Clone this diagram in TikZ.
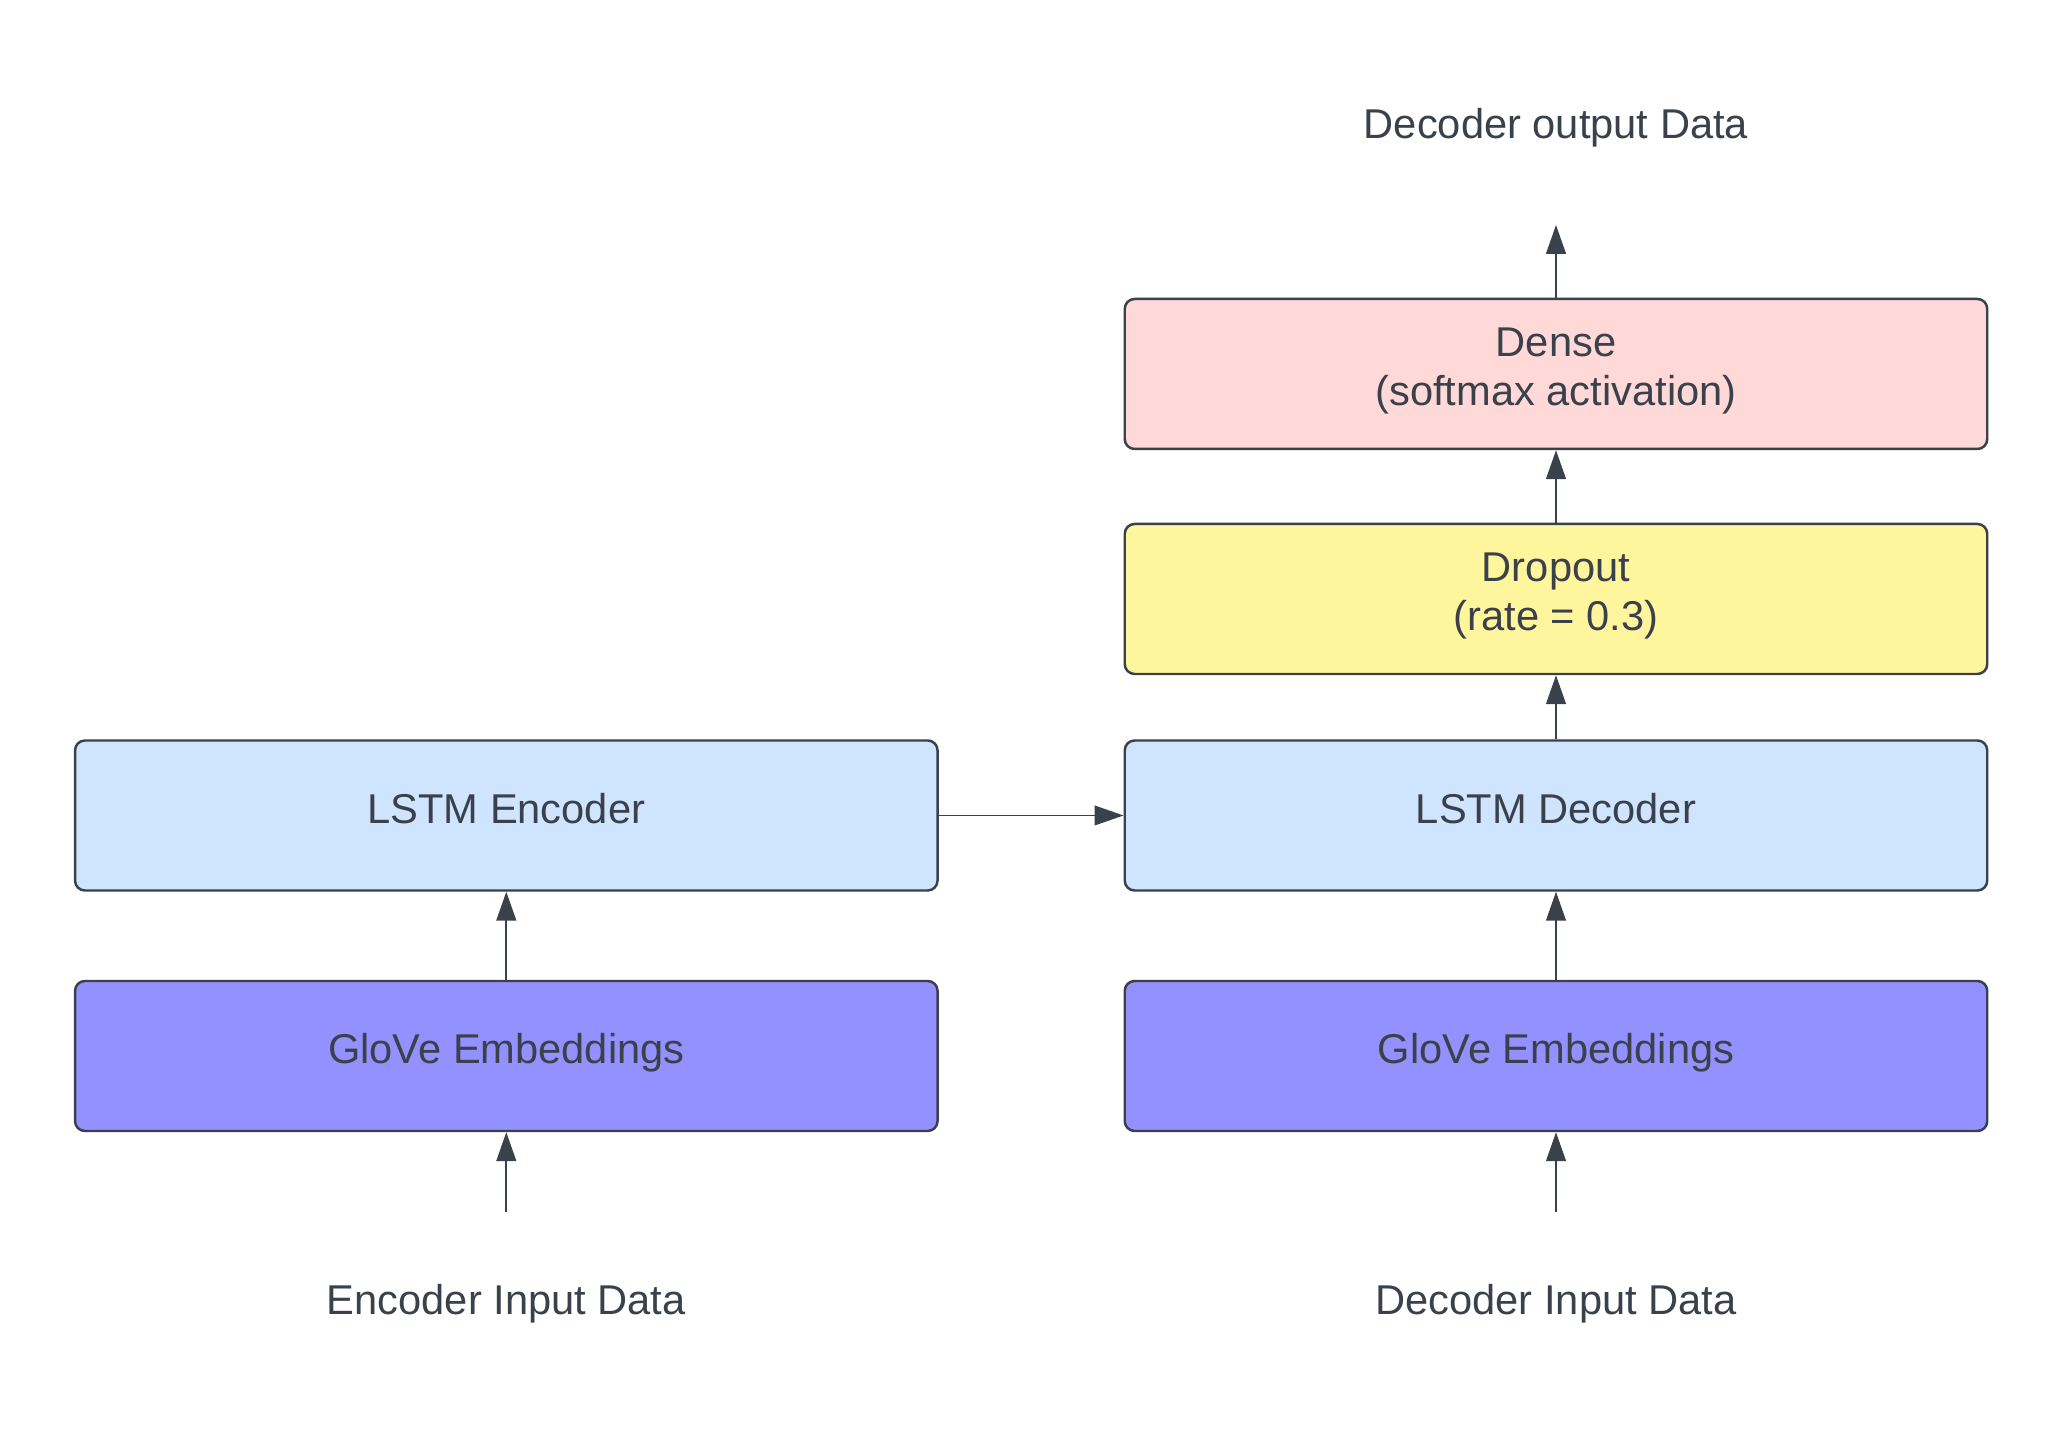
\documentclass[tikz,border=0pt]{standalone}
\usepackage{fontspec}
\setmainfont{Liberation Sans}
\usepackage{tikz}
\usepackage{xcolor}
\usetikzlibrary{arrows.meta}

\definecolor{ink}{HTML}{3A414A}
\definecolor{lstmblue}{HTML}{CFE4FF}
\definecolor{glovepurple}{HTML}{9391FF}
\definecolor{dropyellow}{HTML}{FFF59D}
\definecolor{densepink}{HTML}{FFD8D8}

\begin{document}
\begin{tikzpicture}[>={Triangle[length=8.2pt,width=5.6pt]},
        layer/.style={draw=ink, line width=0.7pt, rounded corners=2.8pt,
            minimum width=8.625cm, minimum height=1.5cm, align=center,
            text=ink, font=\fontsize{11.85}{13.9}\selectfont,
            execute at end node={\rule[-0.35em]{0pt}{0pt}}},
        datatext/.style={text=ink, font=\fontsize{11.85}{13.9}\selectfont},
        link/.style={->, draw=ink, line width=0.55pt}]
            \useasboundingbox (0,0) rectangle (20.63,14.38);
            % encoder side
            \node[layer, fill=lstmblue] (enclstm) at (5.063,6.225) {LSTM Encoder};
            \node[layer, fill=glovepurple] (encglove) at (5.063,3.82) {GloVe Embeddings};
            \node[datatext, anchor=base] (encin) at (5.063,1.23) {Encoder Input Data};
            \coordinate (encsrc) at (5.063,2.255);
            % decoder side
            \node[layer, fill=lstmblue] (declstm) at (15.56,6.225) {LSTM Decoder};
            \node[layer, fill=glovepurple] (decglove) at (15.56,3.82) {GloVe Embeddings};
            \node[layer, fill=dropyellow] (dropout) at (15.56,8.39) {Dropout\\(rate = 0.3)};
            \node[layer, fill=densepink] (dense) at (15.56,10.64) {Dense\\(softmax activation)};
            \node[datatext, anchor=base] (decin) at (15.56,1.23) {Decoder Input Data};
            \coordinate (decsrc) at (15.56,2.255);
            \node[datatext, anchor=base] (decout) at (15.56,12.99) {Decoder output Data};
            \coordinate (outtip) at (15.56,12.13);
            % arrows
            \draw[link] (encsrc) -- (encglove);
            \draw[link] (encglove) -- (enclstm);
            \draw[link, line width=0.4pt] (enclstm) -- (declstm);
            \draw[link] (decsrc) -- (decglove);
            \draw[link] (decglove) -- (declstm);
            \draw[link] (declstm) -- (dropout);
            \draw[link] (dropout) -- (dense);
            \draw[link] (dense) -- (outtip);
      \end{tikzpicture}
\end{document}
